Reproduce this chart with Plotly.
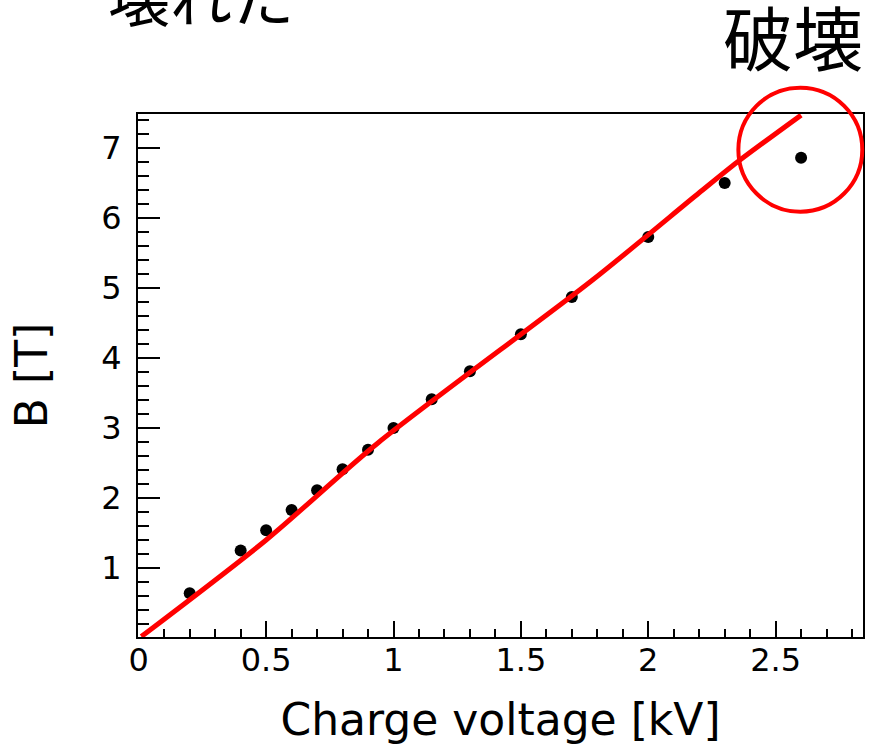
import plotly.graph_objects as go

# Measured data (charge voltage [kV], magnetic field [T])
voltage_kv = [0.2, 0.4, 0.5, 0.6, 0.7, 0.8, 0.9, 1.0, 1.15, 1.3, 1.5, 1.7, 2.0, 2.3, 2.6]
field_t = [0.64, 1.25, 1.54, 1.83, 2.11, 2.41, 2.69, 3.0, 3.41, 3.81, 4.34, 4.87, 5.73, 6.50, 6.86]

# Hand-drawn red guide line
guide_x = [0.01, 0.5, 0.94, 1.78, 2.2, 2.35, 2.6]
guide_y = [0.02, 1.40, 2.79, 5.11, 6.36, 6.80, 7.47]

x_ticks = [0, 0.5, 1, 1.5, 2, 2.5]
x_ticklabels = ["0", "0.5", "1", "1.5", "2", "2.5"]
y_ticks = [1, 2, 3, 4, 5, 6, 7]
y_ticklabels = ["1", "2", "3", "4", "5", "6", "7"]

FONT = "DejaVu Sans, Liberation Sans, Arial, sans-serif"
JP = "Noto Sans CJK JP"

fig = go.Figure()
fig.add_trace(go.Scatter(x=voltage_kv, y=field_t, mode="markers",
                         marker=dict(color="black", size=12), showlegend=False))
fig.add_trace(go.Scatter(x=guide_x, y=guide_y, mode="lines",
                         line=dict(color="#ff0000", width=5, shape="spline", smoothing=0.8),
                         showlegend=False))

axis_common = dict(showgrid=False, zeroline=False, showline=True, linecolor="black",
                   linewidth=2, mirror=True, ticks="inside", tickcolor="black",
                   tickwidth=2, tickfont=dict(family=FONT, size=32, color="black"))

fig.update_xaxes(range=[-0.003, 2.843], tickvals=x_ticks, ticktext=x_ticklabels,
                 ticklen=16, ticklabelstandoff=-6,
                 minor=dict(dtick=0.1, ticks="inside", ticklen=8, tickwidth=2, tickcolor="black"),
                 title=dict(text="Charge voltage [kV]", font=dict(family=FONT, size=44, color="black"),
                            standoff=26),
                 **axis_common)
fig.update_yaxes(range=[0.014, 7.486], tickvals=y_ticks, ticktext=y_ticklabels,
                 ticklen=22, ticklabelstandoff=8,
                 minor=dict(dtick=0.2, ticks="inside", ticklen=11, tickwidth=2, tickcolor="black"),
                 title=dict(text="B [T]", font=dict(family=FONT, size=44, color="black"),
                            standoff=40),
                 **axis_common)

fig.add_shape(type="circle", xref="paper", yref="paper",
              x0=0.8281, x1=0.9990, y0=0.8132, y1=1.0503,
              line=dict(color="#ff0000", width=4))

fig.add_annotation(text="破壊", xref="paper", yref="paper", x=1.003, y=1.151,
                   xanchor="right", yanchor="middle", showarrow=False,
                   font=dict(family=JP, size=70, color="black"))
fig.add_annotation(text="壊れた", xref="paper", yref="paper", x=0.0867, y=1.2275,
                   xanchor="center", yanchor="middle", showarrow=False,
                   font=dict(family=JP, size=62, color="black"))

fig.update_layout(width=869, height=750, margin=dict(l=138, r=4, t=114, b=113),
                  plot_bgcolor="white", paper_bgcolor="white")

fig.write_html("out.html")
